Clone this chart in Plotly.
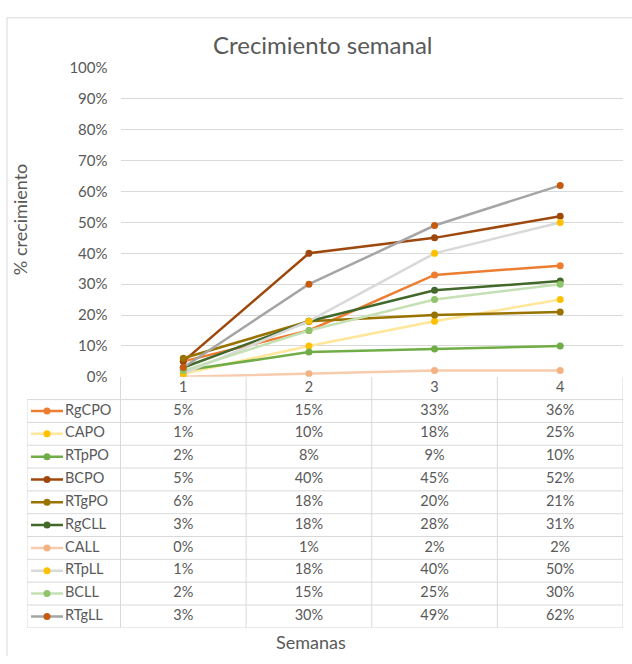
import plotly.graph_objects as go

W, H = 632, 664

weeks = [1, 2, 3, 4]
series_names = ["RgCPO", "CAPO", "RTpPO", "BCPO", "RTgPO", "RgCLL", "CALL", "RTpLL", "BCLL", "RTgLL"]
rgcpo = [0.05, 0.15, 0.33, 0.36]
capo = [0.01, 0.10, 0.18, 0.25]
rtppo = [0.02, 0.08, 0.09, 0.10]
bcpo = [0.05, 0.40, 0.45, 0.52]
rtgpo = [0.06, 0.18, 0.20, 0.21]
rgcll = [0.03, 0.18, 0.28, 0.31]
call = [0.00, 0.01, 0.02, 0.02]
rtpll = [0.01, 0.18, 0.40, 0.50]
bcll = [0.02, 0.15, 0.25, 0.30]
rtgll = [0.03, 0.30, 0.49, 0.62]
values = [rgcpo, capo, rtppo, bcpo, rtgpo, rgcll, call, rtpll, bcll, rtgll]

line_colors = ["#ED7D31", "#FFE699", "#70AD47", "#9E480E", "#997300",
               "#43682B", "#F8CBAD", "#D9D9D9", "#C5E0B4", "#A5A5A5"]
marker_colors = ["#ED7D31", "#FFC000", "#70AD47", "#9E480E", "#997300",
                 "#43682B", "#F4B183", "#FFC000", "#8FC46A", "#C55A11"]

y_ticks = [i / 10 for i in range(11)]

FONT = "Lato, 'Open Sans', sans-serif"
TXT = "#595959"
GRID = "#D9D9D9"

# pixel layout helpers
px_x = lambda p: p / W
px_y = lambda p: 1 - p / H

plot_left, plot_right = 120.5, 623
plot_top, plot_bottom = 59.7, 377
table_left, table_bottom = 27, 635
unit = (plot_right - plot_left) / 4.0
x2_min = 0.5 - (plot_left - table_left) / unit
nrows = 11

fig = go.Figure()

# main line traces
for name, vals, lc, mc in zip(series_names, values, line_colors, marker_colors):
    fig.add_trace(go.Scatter(
        x=weeks, y=vals, name=name, mode="lines+markers",
        line=dict(color=lc, width=2.5),
        marker=dict(color=mc, size=7),
        xaxis="x", yaxis="y", showlegend=False, hoverinfo="x+y+name",
    ))

# table grid lines (drawn on table axes)
gx, gy = [], []
for r in range(1, nrows + 1):
    gx += [x2_min, 4.5, None]
    gy += [r, r, None]
for c in [0.5, 1.5, 2.5, 3.5, 4.5]:
    gx += [c, c, None]
    gy += [0, nrows, None]
gx += [x2_min, x2_min, None]
gy += [1, nrows, None]
fig.add_trace(go.Scatter(x=gx, y=gy, mode="lines", line=dict(color=GRID, width=1),
                         xaxis="x2", yaxis="y2", showlegend=False, hoverinfo="skip"))

# header labels (weeks)
fig.add_trace(go.Scatter(x=weeks, y=[0.5] * 4, mode="text", text=[str(w) for w in weeks],
                         textfont=dict(family=FONT, size=14.5, color=TXT),
                         xaxis="x2", yaxis="y2", showlegend=False, hoverinfo="skip"))

# cell values
for i, vals in enumerate(values):
    fig.add_trace(go.Scatter(
        x=weeks, y=[i + 1.5] * 4, mode="text",
        text=[f"{round(v * 100):d}%" for v in vals],
        textfont=dict(family=FONT, size=14.5, color=TXT),
        xaxis="x2", yaxis="y2", showlegend=False, hoverinfo="skip"))

# legend keys in first column
key_x0 = x2_min + (31 - table_left) / unit
key_x1 = x2_min + (63 - table_left) / unit
key_label = x2_min + (65 - table_left) / unit
for i, (name, lc, mc) in enumerate(zip(series_names, line_colors, marker_colors)):
    yc = i + 1.5
    fig.add_trace(go.Scatter(x=[key_x0, key_x1], y=[yc, yc], mode="lines",
                             line=dict(color=lc, width=2.5),
                             xaxis="x2", yaxis="y2", showlegend=False, hoverinfo="skip"))
    fig.add_trace(go.Scatter(x=[(key_x0 + key_x1) / 2], y=[yc], mode="markers",
                             marker=dict(color=mc, size=7),
                             xaxis="x2", yaxis="y2", showlegend=False, hoverinfo="skip"))
    fig.add_trace(go.Scatter(x=[key_label], y=[yc], mode="text", text=[name],
                             textposition="middle right",
                             textfont=dict(family=FONT, size=14.5, color=TXT),
                             xaxis="x2", yaxis="y2", showlegend=False, hoverinfo="skip"))

fig.update_layout(
    width=W, height=H,
    margin=dict(l=0, r=0, t=0, b=0),
    paper_bgcolor="white", plot_bgcolor="rgba(0,0,0,0)",
    font=dict(family=FONT, color=TXT),
    xaxis=dict(domain=[px_x(plot_left), px_x(plot_right)], range=[0.5, 4.5],
               showticklabels=False, ticks="", showgrid=False, zeroline=False,
               showline=False, anchor="y", fixedrange=True),
    yaxis=dict(domain=[px_y(plot_bottom), px_y(plot_top)], range=[0, 1.0],
               tickvals=y_ticks, tickformat=".0%", showgrid=True, gridcolor=GRID,
               gridwidth=1, zeroline=False, showline=False, ticks="",
               tickfont=dict(family=FONT, size=15, color=TXT), ticklabelstandoff=12,
               anchor="x", fixedrange=True),
    xaxis2=dict(domain=[px_x(table_left), px_x(plot_right)], range=[x2_min, 4.5],
                visible=False, anchor="y2", fixedrange=True),
    yaxis2=dict(domain=[px_y(table_bottom), px_y(plot_bottom)], range=[nrows, 0],
                visible=False, anchor="x2", fixedrange=True),
    annotations=[
        dict(text="Crecimiento semanal", x=px_x(323), y=px_y(35), xref="paper", yref="paper",
             showarrow=False, font=dict(family=FONT, size=24, color=TXT),
             xanchor="center", yanchor="middle"),
        dict(text="% crecimiento", x=px_x(20), y=px_y(216), xref="paper", yref="paper",
             showarrow=False, textangle=-90, font=dict(family=FONT, size=18, color=TXT),
             xanchor="center", yanchor="middle"),
        dict(text="Semanas", x=px_x(311), y=px_y(650), xref="paper", yref="paper",
             showarrow=False, font=dict(family=FONT, size=18, color=TXT),
             xanchor="center", yanchor="middle"),
    ],
    shapes=[
        dict(type="line", xref="paper", yref="paper", x0=px_x(7), x1=px_x(7), y0=0, y1=px_y(8),
             line=dict(color=GRID, width=1)),
        dict(type="line", xref="paper", yref="paper", x0=px_x(7), x1=1, y0=px_y(8), y1=px_y(8),
             line=dict(color=GRID, width=1)),
    ],
)

fig.write_html("out.html")
